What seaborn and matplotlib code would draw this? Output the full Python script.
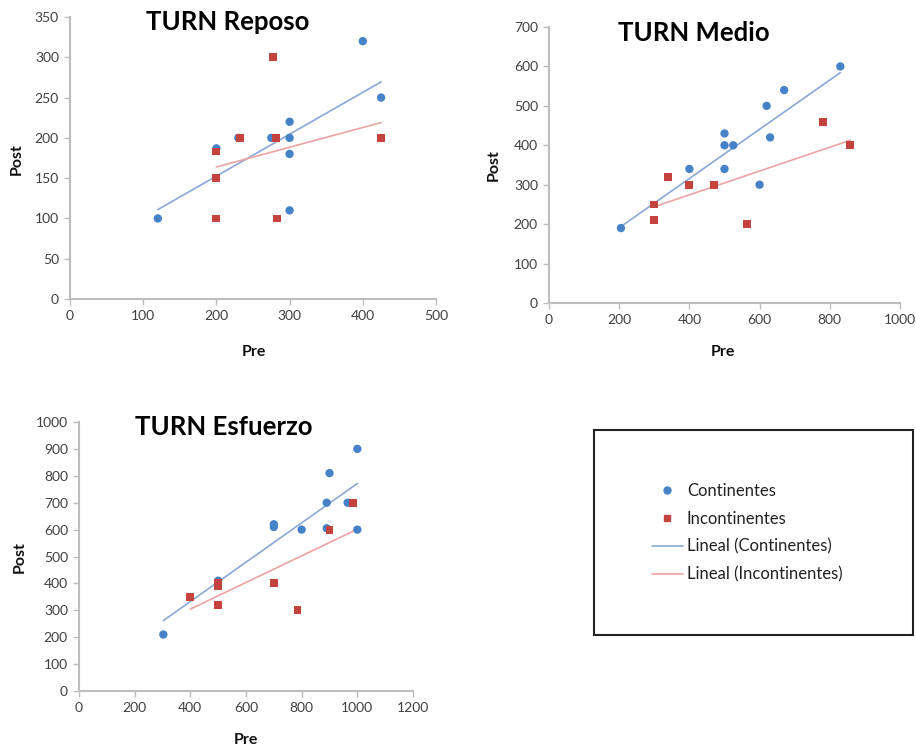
import matplotlib
matplotlib.use("Agg")
import matplotlib.pyplot as plt
import seaborn as sns
import pandas as pd
from matplotlib.lines import Line2D
from matplotlib.patches import Rectangle

sns.set_theme(style="white")
plt.rcParams['font.family'] = ['Lato', 'DejaVu Sans']

# ---- data ----
reposo_cont_pre = [120, 200, 230, 275, 300, 300, 300, 300, 400, 425]
reposo_cont_post = [100, 187, 200, 200, 220, 200, 180, 110, 320, 250]
reposo_inc_pre = [200, 200, 200, 232, 277, 282, 283, 425]
reposo_inc_post = [183, 150, 100, 200, 300, 200, 100, 200]

medio_cont_pre = [205, 400, 500, 500, 500, 525, 600, 620, 630, 670, 830]
medio_cont_post = [190, 340, 430, 400, 340, 400, 300, 500, 420, 540, 600]
medio_inc_pre = [300, 300, 340, 400, 470, 565, 780, 858]
medio_inc_post = [250, 210, 320, 300, 300, 200, 460, 400]

esf_cont_pre = [303, 500, 700, 700, 800, 890, 890, 900, 965, 1000, 1000]
esf_cont_post = [210, 410, 620, 610, 600, 700, 605, 810, 700, 900, 600]
esf_inc_pre = [400, 500, 500, 500, 700, 785, 900, 985]
esf_inc_post = [350, 400, 390, 320, 400, 300, 600, 700]

titles = ["TURN Reposo", "TURN Medio", "TURN Esfuerzo"]
groups = ["Continentes", "Incontinentes"]
trend_labels = ["Lineal (Continentes)", "Lineal (Incontinentes)"]

BLUE = "#4682c8"
RED = "#c4433f"
BLUE_L = "#8aa8d6"
RED_L = "#eba4a2"
SPINE = "#bdbdbd"

fig = plt.figure(figsize=(9.16, 7.51), dpi=100)
W, H = 916, 751

def ax_px(l, t, r, b):
    return fig.add_axes([l / W, 1 - b / H, (r - l) / W, (b - t) / H])

panels = [
    dict(rect=(70, 17, 436, 299), xlim=500, xstep=100, ylim=350, ystep=50,
         cx=reposo_cont_pre, cy=reposo_cont_post, ix=reposo_inc_pre, iy=reposo_inc_post,
         title=titles[0], tpos=(228, 22), post=(17, 159), pre=(254, 352)),
    dict(rect=(549, 27, 900, 303), xlim=1000, xstep=200, ylim=700, ystep=100,
         cx=medio_cont_pre, cy=medio_cont_post, ix=medio_inc_pre, iy=medio_inc_post,
         title=titles[1], tpos=(694, 33), post=(494, 165), pre=(723, 352)),
    dict(rect=(79, 422, 413, 691), xlim=1200, xstep=200, ylim=1000, ystep=100,
         cx=esf_cont_pre, cy=esf_cont_post, ix=esf_inc_pre, iy=esf_inc_post,
         title=titles[2], tpos=(224, 427), post=(20, 557), pre=(246, 740)),
]

for p in panels:
    ax = ax_px(*p["rect"])
    dc = pd.DataFrame({"Pre": p["cx"], "Post": p["cy"]})
    di = pd.DataFrame({"Pre": p["ix"], "Post": p["iy"]})
    sns.regplot(data=dc, x="Pre", y="Post", ax=ax, scatter=False, ci=None,
                truncate=True, line_kws=dict(color=BLUE_L, lw=1.2))
    sns.regplot(data=di, x="Pre", y="Post", ax=ax, scatter=False, ci=None,
                truncate=True, line_kws=dict(color=RED_L, lw=1.2))
    sns.scatterplot(data=dc, x="Pre", y="Post", ax=ax, marker="o", color=BLUE,
                    s=36, edgecolor="none", zorder=3)
    sns.scatterplot(data=di, x="Pre", y="Post", ax=ax, marker="s", color=RED,
                    s=32, edgecolor="none", zorder=3)
    ax.set_xlim(0, p["xlim"])
    ax.set_ylim(0, p["ylim"])
    ax.set_xticks(range(0, p["xlim"] + 1, p["xstep"]))
    ax.set_yticks(range(0, p["ylim"] + 1, p["ystep"]))
    ax.set_xlabel("")
    ax.set_ylabel("")
    for s in ["top", "right"]:
        ax.spines[s].set_visible(False)
    for s in ["left", "bottom"]:
        ax.spines[s].set_color(SPINE)
        ax.spines[s].set_linewidth(1.5)
    ax.tick_params(axis="both", which="major", length=4, width=1.0, color=SPINE,
                   labelsize=10, labelcolor="#404040", direction="out",
                   left=True, bottom=True, pad=4)
    ax.patch.set_alpha(0)
    fig.text(p["tpos"][0] / W, 1 - p["tpos"][1] / H, p["title"], ha="center", va="center",
             fontsize=18.5, fontweight="bold", color="black")
    fig.text(p["post"][0] / W, 1 - p["post"][1] / H, "Post", ha="center", va="center",
             rotation=90, fontsize=11.5, fontweight="bold", color="#111111")
    fig.text(p["pre"][0] / W, 1 - p["pre"][1] / H, "Pre", ha="center", va="center",
             fontsize=11.5, fontweight="bold", color="#111111")

# legend box
fig.patches.append(Rectangle((594 / W, 1 - 635 / H), (913 - 594) / W, (635 - 430) / H,
                             transform=fig.transFigure, fill=False, edgecolor="#222222",
                             lw=1.5))
handles = [
    Line2D([], [], marker="o", color=BLUE, ls="none", markersize=5),
    Line2D([], [], marker="s", color=RED, ls="none", markersize=5),
    Line2D([], [], color=BLUE_L, lw=1.2),
    Line2D([], [], color=RED_L, lw=1.2),
]
fig.legend(handles, groups + trend_labels, loc="upper left",
           bbox_to_anchor=(652 / W, 1 - 483 / H), frameon=False, borderpad=0,
           borderaxespad=0, fontsize=12, handlelength=1.85, handletextpad=0.25,
           labelspacing=0.71, labelcolor="#222222")

fig.savefig("out.png", dpi=100)
